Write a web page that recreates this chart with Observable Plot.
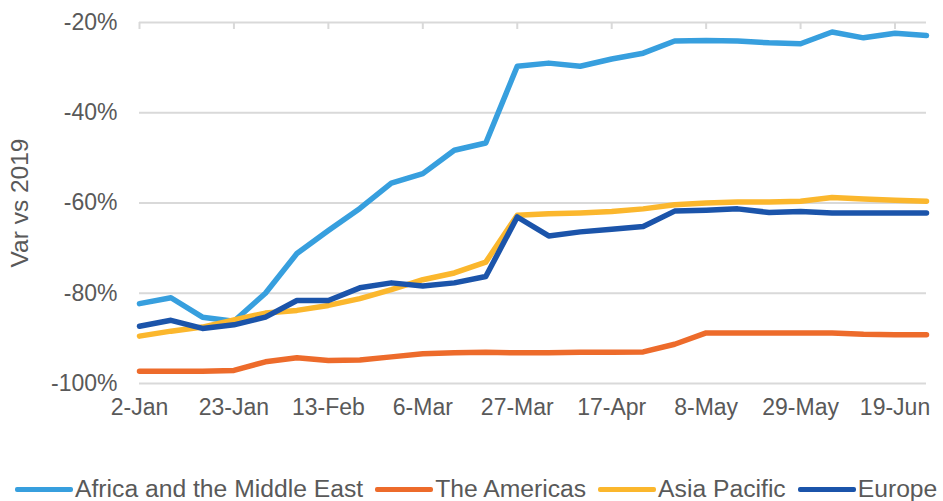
<!DOCTYPE html>
<html>
<head>
<meta charset="utf-8">
<script src="https://cdn.jsdelivr.net/npm/d3@7"></script>
<script src="https://cdn.jsdelivr.net/npm/@observablehq/plot@0.6"></script>
<style>
  html, body { margin: 0; padding: 0; background: #fff; }
  #wrap { position: relative; width: 943px; height: 501px; overflow: hidden; font-family: "Liberation Sans", Arial, sans-serif; color: #595959; }
  #legend { position: absolute; left: 15px; top: 474px; display: flex; align-items: center; white-space: nowrap; font-size: 24.7px; line-height: 30px; }
  .item { display: flex; align-items: center; margin-right: 12px; }
  .sw { display: inline-block; width: 58px; height: 5px; border-radius: 2px; margin-right: 2px; }
</style>
</head>
<body>
<div id="wrap"><div id="chart"></div><div id="legend"></div></div>
<script>
const weeks = ["2021-01-02","2021-01-09","2021-01-16","2021-01-23","2021-01-30","2021-02-06","2021-02-13","2021-02-20","2021-02-27","2021-03-06","2021-03-13","2021-03-20","2021-03-27","2021-04-03","2021-04-10","2021-04-17","2021-04-24","2021-05-01","2021-05-08","2021-05-15","2021-05-22","2021-05-29","2021-06-05","2021-06-12","2021-06-19","2021-06-26"];
const tickDates = ["2021-01-02","2021-01-23","2021-02-13","2021-03-06","2021-03-27","2021-04-17","2021-05-08","2021-05-29","2021-06-19"];
const yTicks = [-100, -80, -60, -40, -20];
const seriesNames = ["Africa and the Middle East", "The Americas", "Asia Pacific", "Europe"];
const seriesColors = ["#379FDE", "#ED6B2B", "#FBB72D", "#1B54AA"];
const africa = [-82.3,-81.0,-85.3,-86.2,-80.0,-71.2,-66.1,-61.2,-55.6,-53.5,-48.3,-46.7,-29.7,-29.0,-29.7,-28.1,-26.8,-24.1,-24.0,-24.1,-24.5,-24.7,-22.1,-23.4,-22.4,-22.9];
const americas = [-97.3,-97.3,-97.3,-97.1,-95.2,-94.3,-94.9,-94.8,-94.1,-93.4,-93.2,-93.1,-93.2,-93.2,-93.1,-93.1,-93.0,-91.3,-88.8,-88.8,-88.8,-88.8,-88.8,-89.1,-89.2,-89.2];
const asiaPacific = [-89.5,-88.4,-87.5,-85.9,-84.4,-83.8,-82.7,-81.2,-79.2,-77.0,-75.5,-73.1,-62.7,-62.4,-62.2,-61.9,-61.3,-60.4,-60.0,-59.8,-59.8,-59.6,-58.8,-59.1,-59.4,-59.6];
const europe = [-87.3,-86.0,-87.8,-87.0,-85.3,-81.6,-81.6,-78.8,-77.7,-78.4,-77.7,-76.3,-63.1,-67.3,-66.4,-65.8,-65.2,-61.8,-61.6,-61.3,-62.1,-61.9,-62.2,-62.2,-62.2,-62.2];

const values = [africa, americas, asiaPacific, europe];
const parse = d3.utcParse("%Y-%m-%d");
const data = seriesNames.flatMap((s, k) => weeks.map((w, i) => ({series: s, date: parse(w), value: values[k][i]})));
const ticks = tickDates.map(parse);

const chart = Plot.plot({
  width: 943,
  height: 430,
  marginLeft: 139,
  marginRight: 17,
  marginTop: 22,
  marginBottom: 47,
  style: {fontFamily: "'Liberation Sans', Arial, sans-serif", fontSize: "23px", color: "#595959", background: "#fff", overflow: "visible"},
  x: {type: "utc", domain: [parse(weeks[0]), parse(weeks[weeks.length - 1])]},
  y: {domain: [-100, -20]},
  color: {domain: seriesNames, range: seriesColors},
  marks: [
    Plot.ruleY(yTicks, {stroke: "#d9d9d9", strokeWidth: 2}),
    Plot.tickX(ticks, {x: d => d, stroke: "#d9d9d9", strokeWidth: 2, insetBottom: 354}),
    Plot.axisX(ticks, {anchor: "bottom", tickSize: 0, tickPadding: 15, tickFormat: d3.utcFormat("%-d-%b"), label: null}),
    Plot.axisY(yTicks, {anchor: "left", tickSize: 0, tickPadding: 22, tickFormat: d => d + "%", label: null}),
    Plot.text(["Var vs 2019"], {frameAnchor: "left", textAnchor: "middle", dx: -119, rotate: -90, fontSize: 24.5, fill: "#595959"}),
    Plot.line(data, {x: "date", y: "value", z: "series", stroke: "series", strokeWidth: 5.5, strokeLinejoin: "round", strokeLinecap: "round"})
  ]
});
document.getElementById("chart").appendChild(chart);

const legend = document.getElementById("legend");
seriesNames.forEach((s, k) => {
  const it = document.createElement("div");
  it.className = "item";
  const sw = document.createElement("span");
  sw.className = "sw";
  sw.style.background = seriesColors[k];
  const tx = document.createElement("span");
  tx.textContent = s;
  it.appendChild(sw); it.appendChild(tx);
  legend.appendChild(it);
});
</script>
</body>
</html>
